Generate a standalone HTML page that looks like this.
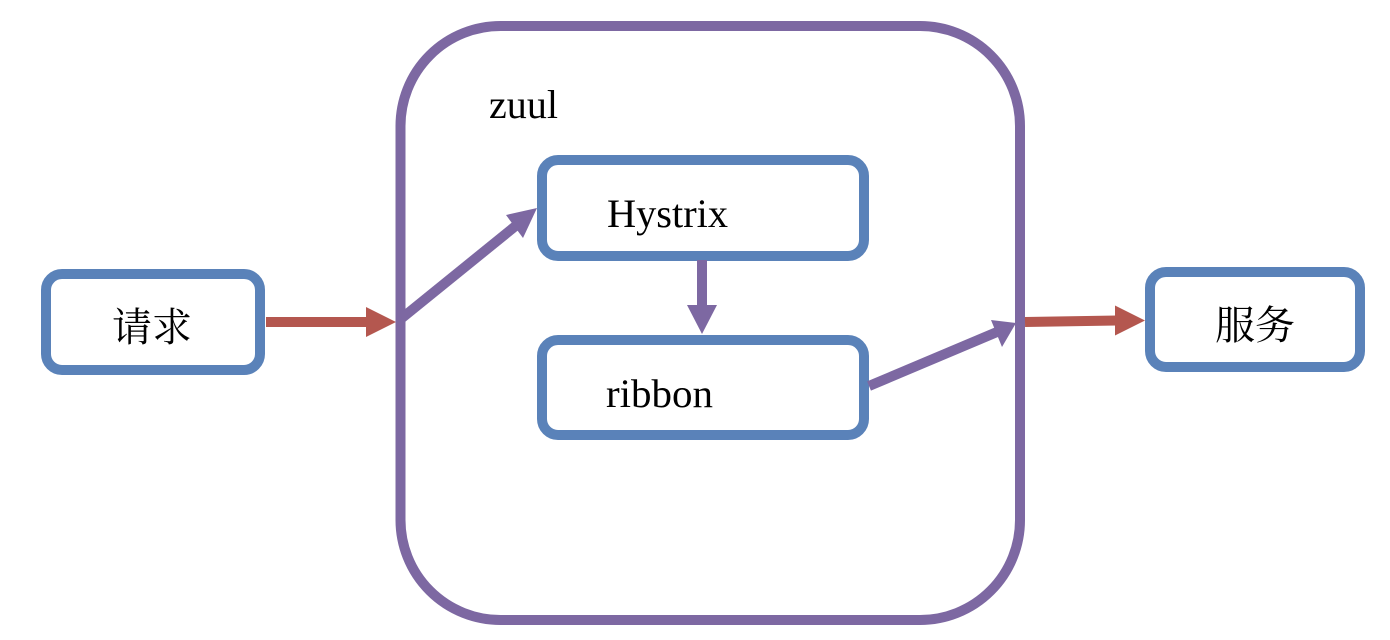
<!DOCTYPE html>
<html>
<head>
<meta charset="utf-8">
<style>
html,body{margin:0;padding:0;background:#fff;width:1390px;height:640px;overflow:hidden}
svg{display:block}
text{font-family:"Liberation Serif","Noto Serif CJK SC",serif;font-size:40.5px;fill:#000}
text.c{font-size:40px}
</style>
</head>
<body>
<svg width="1390" height="640" viewBox="0 0 1390 640" xmlns="http://www.w3.org/2000/svg">
<rect x="46" y="274" width="214" height="96" rx="16" fill="#fff" stroke="#5a82b9" stroke-width="10"/>
<rect x="1150" y="272" width="210" height="95" rx="16" fill="#fff" stroke="#5a82b9" stroke-width="10"/>
<rect x="400.5" y="26" width="619.5" height="594" rx="100" fill="#fff" stroke="#7d68a2" stroke-width="10"/>
<rect x="542" y="160" width="322" height="96" rx="16" fill="#fff" stroke="#5a82b9" stroke-width="10"/>
<rect x="542" y="340" width="322" height="95" rx="16" fill="#fff" stroke="#5a82b9" stroke-width="10"/>
<line x1="266" y1="322" x2="368" y2="322" stroke="#b4574f" stroke-width="10"/>
<polygon points="366,307 396,322 366,337" fill="#b4574f"/>
<line x1="1025" y1="322" x2="1117" y2="320.5" stroke="#b4574f" stroke-width="10"/>
<polygon points="1115,305.5 1145,320.5 1115,335.5" fill="#b4574f"/>
<line x1="402" y1="318" x2="518" y2="224" stroke="#7d68a2" stroke-width="10"/>
<polygon points="506,215 537,208 523,238" fill="#7d68a2"/>
<line x1="702" y1="260" x2="702" y2="306" stroke="#7d68a2" stroke-width="10"/>
<polygon points="687,305 717,305 702,334" fill="#7d68a2"/>
<line x1="869" y1="386" x2="997" y2="332" stroke="#7d68a2" stroke-width="10"/>
<polygon points="991,320 1016,323 1002,347" fill="#7d68a2"/>
<text class="c" x="112" y="341">请求</text>
<text class="c" x="1215" y="339">服务</text>
<text x="489" y="118" textLength="69" lengthAdjust="spacingAndGlyphs">zuul</text>
<text x="607" y="227" textLength="121" lengthAdjust="spacingAndGlyphs">Hystrix</text>
<text x="606" y="407" textLength="107" lengthAdjust="spacingAndGlyphs">ribbon</text>
</svg>
</body>
</html>
